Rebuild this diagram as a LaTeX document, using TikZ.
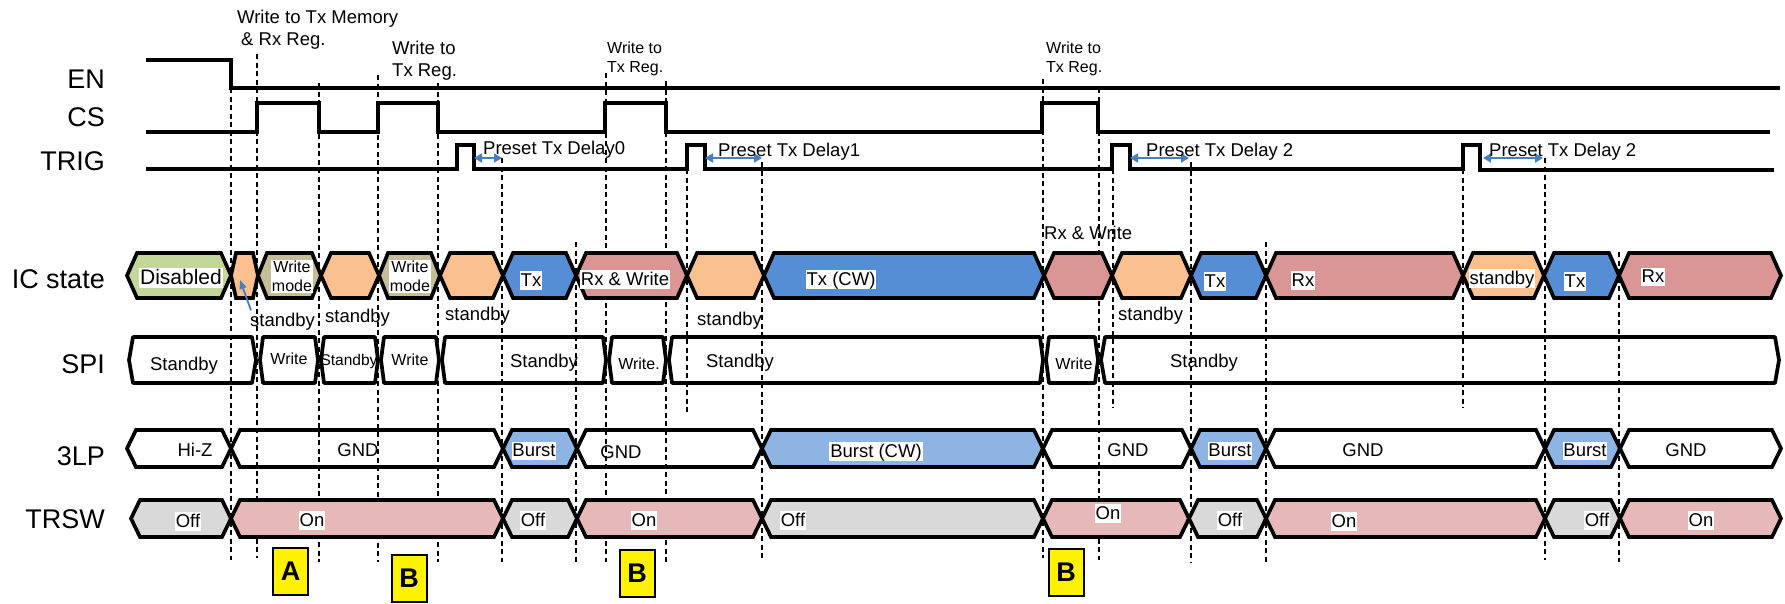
\documentclass[tikz,border=0pt]{standalone}
\usepackage{fontspec}
\setmainfont{Liberation Sans}
\usetikzlibrary{arrows.meta}
\definecolor{cgreen}{RGB}{196,215,155}
\definecolor{corange}{RGB}{250,192,144}
\definecolor{ckhaki}{RGB}{196,189,151}
\definecolor{cblue}{RGB}{85,142,213}
\definecolor{cred}{RGB}{217,150,148}
\definecolor{cburst}{RGB}{142,180,227}
\definecolor{con}{RGB}{230,185,184}
\definecolor{coff}{RGB}{217,217,217}
\definecolor{carrow}{RGB}{74,126,187}
\newcommand{\hexseg}[6]{\draw[seg,#6] (#1,#3) -- ({#1+#5},{#3-#4}) -- ({#2-#5},{#3-#4}) -- (#2,#3) -- ({#2-#5},{#3+#4}) -- ({#1+#5},{#3+#4}) -- cycle;}
\tikzset{
  sig/.style={line width=3.3pt, line join=miter},
  seg/.style={line width=3.7pt, line join=miter, miter limit=3},
  dsh/.style={line width=1.2pt, dash pattern=on 5pt off 3.5pt},
  rowlbl/.style={font=\fontsize{27}{30}\selectfont, anchor=base east, inner sep=0pt},
  tA/.style={font=\fontsize{18.5}{22}\selectfont, anchor=base, inner sep=0pt},
  tB/.style={font=\fontsize{16}{19}\selectfont, anchor=base, inner sep=0pt},
  tW/.style={font=\fontsize{18.5}{22}\selectfont, anchor=base west, inner sep=0pt},
  tWs/.style={font=\fontsize{16}{19}\selectfont, anchor=base west, inner sep=0pt},
  wbg/.style={fill=white, text height=14pt, text depth=2.5pt, inner ysep=1pt, inner xsep=0.8pt},
  darr/.style={carrow, line width=2.4pt, {Triangle[length=8pt,width=9pt]}-{Triangle[length=8pt,width=9pt]}},
  letterbox/.style={draw, line width=2pt, fill=yellow, inner sep=0pt, minimum width=35pt, minimum height=47pt, font=\fontsize{27}{30}\selectfont\bfseries},
}
\begin{document}
\begin{tikzpicture}[x=1pt,y=-1pt]
\useasboundingbox (0,0) rectangle (1785,603);

% row labels
\node[rowlbl] (lEN) at (105,88) {EN};
\node[rowlbl] (lCS) at (105,126) {CS};
\node[rowlbl] (lTRIG) at (105,170) {TRIG};
\node[rowlbl] (lIC) at (105,288) {IC state};
\node[rowlbl] (lSPI) at (105,373) {SPI};
\node[rowlbl] (l3LP) at (105,465) {3LP};
\node[rowlbl] (lTRSW) at (105,528) {TRSW};

% dashed guide lines
\foreach \x/\a/\b in {231/88/560, 257/54/558, 319/83/562, 378/75/562, 438/83/562, 502/158/562, 576/242/562, 606/73/562, 666/81/562, 687/169/413, 762/162/560, 1043/79/558, 1099/88/560, 1113/169/408, 1191/162/562, 1266/242/562, 1463/169/408, 1545/158/560, 1619/252/562}
  \draw[dsh] (\x,\a) -- (\x,\b);

% signals
\draw[sig] (146,60) -- (231,60) -- (231,88) -- (1780,88);
\draw[sig] (146,132) -- (257,132) -- (257,103) -- (319,103) -- (319,132) -- (378,132) -- (378,103) -- (438,103) -- (438,132)
  -- (605,132) -- (605,103) -- (666,103) -- (666,132) -- (1042,132) -- (1042,103) -- (1098,103) -- (1098,132) -- (1770,132);
\draw[sig] (146,169) -- (457,169) -- (457,145) -- (474,145) -- (474,169) -- (687,169) -- (687,145) -- (705,145) -- (705,169)
  -- (1112,169) -- (1112,145) -- (1130,145) -- (1130,169) -- (1463,169) -- (1463,145) -- (1480,145) -- (1480,170) -- (1774,170);

% delay arrows
\draw[darr] (474,158) -- (502,158);
\draw[darr] (705,158) -- (762,158);
\draw[darr] (1130,158) -- (1189,158);
\draw[darr] (1483,158) -- (1543,158);

% top texts
\node[tW] (w1a) at (237,23) {Write to Tx Memory};
\node[tW] (w1b) at (241,45.5) {\& Rx Reg.};
\node[tW] (w2a) at (392,54) {Write to};
\node[tW] (w2b) at (392,76) {Tx Reg.};
\node[tWs] (w3a) at (607,53) {Write to};
\node[tWs] (w3b) at (607,72) {Tx Reg.};
\node[tWs] (w4a) at (1046,53) {Write to};
\node[tWs] (w4b) at (1046,72) {Tx Reg.};
\node[tW] (p0) at (483,154) {Preset Tx Delay0};
\node[tW] (p1) at (718,156) {Preset Tx Delay1};
\node[tW] (p2) at (1146,156) {Preset Tx Delay 2};
\node[tW] (p3) at (1489,156) {Preset Tx Delay 2};

% IC state
\hexseg{127}{231}{275.5}{22.5}{10}{fill=cgreen}
\hexseg{231}{258}{275.5}{22.5}{5}{fill=corange}
\hexseg{258}{321}{275.5}{22.5}{9}{fill=ckhaki}
\hexseg{321}{379}{275.5}{22.5}{10}{fill=corange}
\hexseg{379}{440}{275.5}{22.5}{9}{fill=ckhaki}
\hexseg{440}{503}{275.5}{22.5}{10}{fill=corange}
\hexseg{503}{576}{275.5}{22.5}{10}{fill=cblue}
\hexseg{576}{687}{275.5}{22.5}{10}{fill=cred}
\hexseg{687}{764}{275.5}{22.5}{10}{fill=corange}
\hexseg{764}{1044}{275.5}{22.5}{10}{fill=cblue}
\hexseg{1044}{1112}{275.5}{22.5}{10}{fill=cred}
\hexseg{1112}{1191}{275.5}{22.5}{10}{fill=corange}
\hexseg{1191}{1266}{275.5}{22.5}{10}{fill=cblue}
\hexseg{1266}{1463}{275.5}{22.5}{10}{fill=cred}
\hexseg{1463}{1544}{275.5}{22.5}{10}{fill=corange}
\hexseg{1544}{1619}{275.5}{22.5}{10}{fill=cblue}
\hexseg{1619}{1781}{275.5}{22.5}{10}{fill=cred}

\node[tA, wbg, font=\fontsize{21}{24}\selectfont, text height=16pt] (icDis) at (181,284.5) {Disabled};
\node[fill=white, inner sep=1pt, align=center, font=\fontsize{16}{19}\selectfont] (icW1) at (292,276.5) {Write\\mode};
\node[fill=white, inner sep=1pt, align=center, font=\fontsize{16}{19}\selectfont] (icW2) at (410,276.5) {Write\\mode};
\node[tA, wbg] (icTx1) at (531,286) {Tx};
\node[tA, wbg] (icRW) at (625,285) {Rx \& Write};
\node[tA, wbg] (icCW) at (841,285) {Tx (CW)};
\node[tA, wbg] (icTx2) at (1215,287) {Tx};
\node[tA, wbg] (icRx1) at (1303,286) {Rx};
\node[tA, wbg] (icSb) at (1502,284) {standby};
\node[tA, wbg] (icTx3) at (1575,287) {Tx};
\node[tA, wbg] (icRx2) at (1653,282.5) {Rx};

% IC annotations
\node[tW] (rxw) at (1044,239) {Rx \& Write};
\node[tW] (sb1) at (250,326) {standby};
\node[tW] (sb2) at (325,322) {standby};
\node[tW] (sb3) at (445,320) {standby};
\node[tW] (sb4) at (697,325) {standby};
\node[tW] (sb5) at (1118,320) {standby};
\coordinate (sbtip) at (240,280);
\draw[carrow, line width=1.8pt, -{Triangle[length=9pt,width=7pt]}] (sb1.north west) ++(1,-2) -- (sbtip);

% SPI
\begin{scope}[seg/.append style={line join=round}]
\hexseg{129}{256}{360}{23}{4}{}
\hexseg{260}{318}{360}{23}{3}{}
\hexseg{321}{378}{360}{23}{3}{}
\hexseg{381}{439}{360}{23}{3}{}
\hexseg{442}{606}{360}{23}{3}{}
\hexseg{609}{666}{360}{23}{3}{}
\hexseg{669}{1043}{360}{23}{3}{}
\hexseg{1046}{1098}{360}{23}{3}{}
\hexseg{1101}{1779}{360}{23}{4}{}
\end{scope}
\node[tA] (s1) at (184,370) {Standby};
\node[tB] (s2) at (289,364.5) {Write};
\node[tB, font=\fontsize{15.5}{18}\selectfont] (s3) at (349,365) {Standby};
\node[tB] (s4) at (410,365) {Write};
\node[tA] (s5) at (544,367) {Standby};
\node[tB] (s6) at (639,369) {Write.};
\node[tA] (s7) at (740,367) {Standby};
\node[tB] (s8) at (1074,369) {Write};
\node[tA] (s9) at (1204,367) {Standby};

% 3LP
\hexseg{127}{231}{448.5}{18.5}{9}{}
\hexseg{231}{503}{448.5}{18.5}{9}{}
\hexseg{503}{577}{448.5}{18.5}{9}{fill=cburst}
\hexseg{577}{762}{448.5}{18.5}{9}{}
\hexseg{762}{1043}{448.5}{18.5}{9}{fill=cburst}
\hexseg{1043}{1191}{448.5}{18.5}{9}{}
\hexseg{1191}{1266}{448.5}{18.5}{9}{fill=cburst}
\hexseg{1266}{1545}{448.5}{18.5}{9}{}
\hexseg{1545}{1620}{448.5}{18.5}{9}{fill=cburst}
\hexseg{1620}{1781}{448.5}{18.5}{9}{}
\node[tA] (g1) at (195,456.5) {Hi-Z};
\node[tA] (g2) at (358,456.5) {GND};
\node[tA, wbg] (g3) at (534,456.5) {Burst};
\node[tA] (g4) at (621,458) {GND};
\node[tA, wbg] (g5) at (876,457) {Burst (CW)};
\node[tA] (g6) at (1128,456.5) {GND};
\node[tA, wbg] (g7) at (1230,456.5) {Burst};
\node[tA] (g8) at (1363,456.5) {GND};
\node[tA, wbg] (g9) at (1585,456.5) {Burst};
\node[tA] (g10) at (1686,456.5) {GND};

% TRSW
\hexseg{131}{231}{518.5}{18.5}{9}{fill=coff}
\hexseg{231}{503}{518.5}{18.5}{9}{fill=con}
\hexseg{503}{577}{518.5}{18.5}{9}{fill=coff}
\hexseg{577}{762}{518.5}{18.5}{9}{fill=con}
\hexseg{762}{1043}{518.5}{18.5}{9}{fill=coff}
\hexseg{1043}{1189}{518.5}{18.5}{9}{fill=con}
\hexseg{1189}{1266}{518.5}{18.5}{9}{fill=coff}
\hexseg{1266}{1545}{518.5}{18.5}{9}{fill=con}
\hexseg{1545}{1620}{518.5}{18.5}{9}{fill=coff}
\hexseg{1620}{1781}{518.5}{18.5}{9}{fill=con}
\node[tA, wbg] (r1) at (188,527) {Off};
\node[tA, wbg] (r2) at (312,526) {On};
\node[tA, wbg] (r3) at (533,526) {Off};
\node[tA, wbg] (r4) at (644,526) {On};
\node[tA, wbg] (r5) at (793,526) {Off};
\node[tA, wbg] (r6) at (1108,519) {On};
\node[tA, wbg] (r7) at (1230,526) {Off};
\node[tA, wbg] (r8) at (1344,527) {On};
\node[tA, wbg] (r9) at (1597,526) {Off};
\node[tA, wbg] (r10) at (1701,526) {On};

% letter boxes
\node[letterbox] (bA) at (290.5,571.5) {A};
\node[letterbox] (bB1) at (409,578) {B};
\node[letterbox] (bB2) at (637,573) {B};
\node[letterbox] (bB3) at (1066,572) {B};
\end{tikzpicture}
\end{document}
